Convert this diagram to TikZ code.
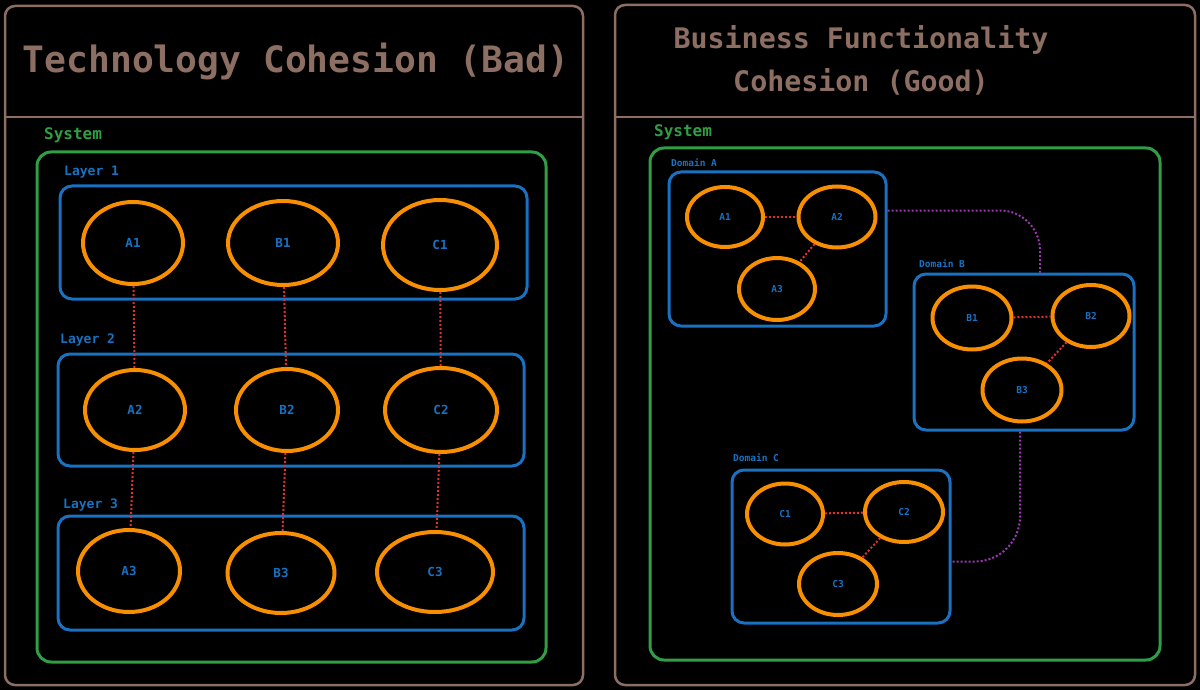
\documentclass[tikz,border=0pt]{standalone}
\usepackage{fontspec}
\setmonofont{DejaVu Sans Mono}
\usetikzlibrary{shapes.geometric,calc}
\definecolor{cbrown}{RGB}{141,110,99}
\definecolor{cgreen}{RGB}{47,158,68}
\definecolor{cblue}{RGB}{25,113,194}
\definecolor{corange}{RGB}{247,143,0}
\definecolor{cred}{RGB}{224,49,49}
\definecolor{cpurple}{RGB}{156,54,181}
\tikzset{
  panel/.style={draw=cbrown, line width=2.5pt, rounded corners=10pt},
  ttl/.style={text=cbrown, font=\ttfamily\bfseries\fontsize{36.3}{42}\selectfont, align=center},
  ttlb/.style={text=cbrown, font=\ttfamily\bfseries\fontsize{28.3}{43}\selectfont, align=center},
  sys/.style={draw=cgreen, line width=3pt, rounded corners=14pt, inner sep=0pt},
  syslbl/.style={text=cgreen, font=\ttfamily\bfseries\fontsize{16}{18}\selectfont, anchor=west, inner sep=0pt},
  grp/.style={draw=cblue, line width=3pt, rounded corners=12pt, inner sep=0pt},
  grplbl/.style={text=cblue, font=\ttfamily\bfseries\fontsize{13}{15}\selectfont, anchor=west, inner sep=0pt},
  domlbl/.style={text=cblue, font=\ttfamily\bfseries\fontsize{9.5}{11}\selectfont, anchor=west, inner sep=0pt},
  obj/.style={ellipse, draw=corange, line width=4pt, inner sep=0pt, text=cblue, font=\ttfamily\bfseries\fontsize{12.5}{14}\selectfont},
  objs/.style={obj, font=\ttfamily\bfseries\fontsize{9.5}{11}\selectfont},
  link/.style={draw=cred, line width=2pt, dash pattern=on 2pt off 2pt},
  dep/.style={draw=cpurple, line width=2pt, dash pattern=on 2pt off 2pt},
}
\begin{document}
\begin{tikzpicture}[x=1pt,y=-1pt]
\useasboundingbox (0,0) rectangle (1200,690);
\fill[black] (0,0) rectangle (1200,690);

% ---------- left panel ----------
\draw[panel] (5,6) rectangle (583,685);
\draw[cbrown, line width=2.5pt] (5,117) -- (583,117);
\node[ttl] (tleft) at (296,62) {Technology Cohesion (Bad)};

\node[sys, minimum width=509pt, minimum height=510pt] (sysL) at (291.5,407) {};
\node[syslbl] (sysLl) at (44,135) {System};

\node[grp, minimum width=467pt, minimum height=113pt] (L1) at (293.5,242.5) {};
\node[grplbl] (L1l) at (64,172) {Layer 1};
\node[grp, minimum width=466pt, minimum height=112pt] (L2) at (291,410) {};
\node[grplbl] (L2l) at (60,340) {Layer 2};
\node[grp, minimum width=466pt, minimum height=114pt] (L3) at (291,573) {};
\node[grplbl] (L3l) at (63,505) {Layer 3};

\node[obj, minimum width=100pt, minimum height=82pt] (lA1) at (133,243) {A1};
\node[obj, minimum width=110pt, minimum height=84pt] (lB1) at (283,243) {B1};
\node[obj, minimum width=114pt, minimum height=90pt] (lC1) at (440,245) {C1};
\node[obj, minimum width=100pt, minimum height=80pt] (lA2) at (135,410) {A2};
\node[obj, minimum width=102pt, minimum height=82pt] (lB2) at (287,410) {B2};
\node[obj, minimum width=112pt, minimum height=84pt] (lC2) at (441,410) {C2};
\node[obj, minimum width=102pt, minimum height=82pt] (lA3) at (129,571) {A3};
\node[obj, minimum width=107pt, minimum height=80pt] (lB3) at (281,573) {B3};
\node[obj, minimum width=116pt, minimum height=80pt] (lC3) at (435,572) {C3};

\draw[link] (lA1) -- (lA2);
\draw[link] (lB1) -- (lB2);
\draw[link] (lC1) -- (lC2);
\draw[link] (lA2) -- (lA3);
\draw[link] (lB2) -- (lB3);
\draw[link] (lC2) -- (lC3);

% ---------- right panel ----------
\draw[panel] (615,5) rectangle (1195,685);
\draw[cbrown, line width=2.5pt] (615,117) -- (1195,117);
\node[ttlb] (tright) at (861,60) {Business Functionality\\Cohesion (Good)};

\node[sys, minimum width=510pt, minimum height=512pt] (sysR) at (905,404) {};
\node[syslbl] (sysRl) at (654,132) {System};

\node[grp, minimum width=217pt, minimum height=154pt] (domA) at (777.5,249) {};
\node[domlbl] (domAl) at (671,163) {Domain A};
\node[grp, minimum width=220pt, minimum height=156pt] (domB) at (1024,352) {};
\node[domlbl] (domBl) at (919,264) {Domain B};
\node[grp, minimum width=218pt, minimum height=153pt] (domC) at (841,546.5) {};
\node[domlbl] (domCl) at (733,458) {Domain C};

\node[objs, minimum width=76pt, minimum height=60pt] (rA1) at (725,217) {A1};
\node[objs, minimum width=77pt, minimum height=61pt] (rA2) at (837,217) {A2};
\node[objs, minimum width=76pt, minimum height=62pt] (rA3) at (777,289) {A3};
\node[objs, minimum width=79pt, minimum height=63pt] (rB1) at (972,318) {B1};
\node[objs, minimum width=77pt, minimum height=62pt] (rB2) at (1091,316) {B2};
\node[objs, minimum width=79pt, minimum height=63pt] (rB3) at (1022,390) {B3};
\node[objs, minimum width=76pt, minimum height=61pt] (rC1) at (785,514) {C1};
\node[objs, minimum width=78pt, minimum height=60pt] (rC2) at (904,512) {C2};
\node[objs, minimum width=78pt, minimum height=62pt] (rC3) at (838,584) {C3};

\draw[link] (rA1) -- (rA2);
\draw[link] (rA2) -- (rA3);
\draw[link] (rB1) -- (rB2);
\draw[link] (rB2) -- (rB3);
\draw[link] (rC1) -- (rC2);
\draw[link] (rC2) -- (rC3);

\draw[dep, rounded corners=40pt] ($(domA.north east)+(0,40)$) -| ($(domB.north)+(16,0)$);
\draw[dep, rounded corners=45pt] ($(domB.south)+(-4,0)$) |- ($(domC.east)+(0,15)$);
\end{tikzpicture}
\end{document}
